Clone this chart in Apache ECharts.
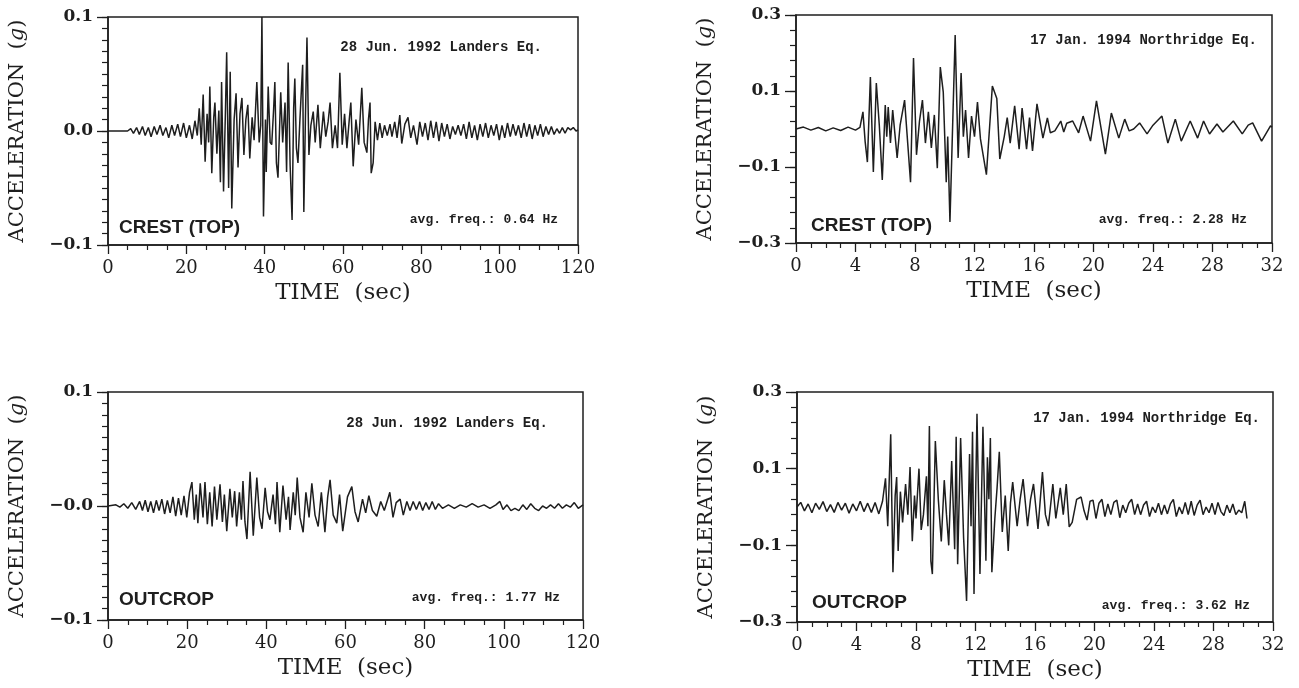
<!DOCTYPE html>
<html>
<head>
<meta charset="utf-8">
<title>Acceleration records</title>
<script src="https://cdn.jsdelivr.net/npm/echarts@6/dist/echarts.min.js"></script>
<style>
  html, body { margin: 0; padding: 0; background: #fff; }
  #chart { width: 1299px; height: 688px; }
</style>
</head>
<body>
<div id="chart"></div>
<script>
// [time (sec), acceleration (g)]
var landersCrest = [
  [0,0],[5,0],[5.8,0.002],[6.5,-0.002],[7.3,0.003],[8,-0.003],[8.8,0.004],[9.5,-0.004],[10.3,0.003],[11,-0.005],
  [11.8,0.004],[12.5,-0.003],[13.3,0.005],[14,-0.004],[14.8,0.003],[15.5,-0.006],[16.3,0.005],[17,-0.004],[17.8,0.006],
  [18.5,-0.005],[19.3,0.007],[20,-0.006],[20.8,0.005],[21.5,-0.007],[22.2,0.009],[22.8,-0.004],[23.3,0.02],[23.8,-0.012],
  [24.3,0.032],[24.8,-0.027],[25.3,0.015],[25.7,-0.01],[26,0.039],[26.5,-0.037],[27,0.012],[27.3,0.025],[27.8,-0.02],
  [28.3,0.018],[28.7,-0.045],[29,0.043],[29.5,-0.053],[30,0.02],[30.3,0.069],[30.8,-0.05],[31.2,0.052],[31.6,-0.068],
  [32.2,0.01],[32.7,0.033],[33.2,-0.032],[33.7,0.015],[34.2,0.029],[34.7,-0.021],[35.2,0.01],[35.7,0.023],[36.2,-0.024],
  [36.8,0.012],[37.3,-0.008],[38,0.043],[38.6,-0.01],[39,0.005],[39.3,0.1],[39.7,-0.075],[40.2,0.01],[40.4,-0.036],
  [40.9,0.039],[41.4,-0.01],[41.8,-0.012],[42.3,0.02],[42.6,0.043],[43,-0.028],[43.4,-0.041],[44.1,0.034],[44.6,-0.01],
  [45.2,0.025],[45.6,-0.036],[46,0.06],[46.5,-0.03],[47,-0.078],[47.4,0.02],[47.7,0.046],[48.1,-0.015],[48.5,-0.028],
  [49,0.01],[49.7,0.058],[50,-0.071],[50.4,0.01],[50.8,0.082],[51.3,-0.021],[51.8,0.005],[52.4,0.017],[52.9,-0.01],
  [53.6,0.023],[54.2,-0.015],[55,0.017],[55.6,-0.005],[56.2,0.008],[56.7,0.025],[57.3,-0.015],[58,0.005],[58.6,-0.015],
  [59.2,0.051],[59.8,-0.012],[60.4,0.015],[61,-0.015],[61.6,0.01],[62,0.025],[62.6,-0.031],[63.3,0.01],[64,-0.012],
  [64.8,0.038],[65.4,-0.01],[66.1,-0.019],[66.5,0.01],[66.9,0.025],[67.2,-0.037],[67.7,-0.028],[68.2,0.008],[68.8,-0.008],
  [69.4,0.007],[70,-0.006],[70.6,0.005],[71.3,-0.004],[72,0.006],[72.5,-0.005],[73.2,0.008],[73.8,-0.006],[74.5,0.014],
  [75,-0.011],[75.8,0.006],[76.6,0.012],[77.3,-0.006],[78,0.005],[78.9,-0.012],[79.6,0.008],[80.3,-0.005],[81,0.007],
  [81.7,-0.008],[82.4,0.009],[83.1,-0.006],[83.8,0.008],[84.5,-0.009],[85.2,0.007],[85.9,-0.005],[86.6,0.006],[87.3,-0.007],
  [88,0.004],[88.7,-0.003],[89.4,0.005],[90.1,-0.004],[90.8,0.006],[91.5,-0.007],[92.2,0.008],[92.9,-0.006],[93.6,0.005],
  [94.3,-0.008],[95,0.006],[95.7,-0.005],[96.4,0.007],[97.1,-0.006],[97.8,0.005],[98.5,-0.004],[99.2,0.006],[99.9,-0.008],
  [100.6,0.005],[101.3,-0.006],[102,0.007],[102.7,-0.005],[103.4,0.006],[104.1,-0.004],[104.8,0.005],[105.5,-0.006],
  [106.2,0.007],[106.9,-0.005],[107.6,0.006],[108.3,-0.007],[109,0.005],[109.7,-0.004],[110.4,0.006],[111.1,-0.005],
  [111.8,0.004],[112.5,-0.003],[113.2,0.004],[113.9,-0.003],[114.6,0.002],[115.3,-0.002],[116,0.003],[116.7,-0.002],
  [117.4,0.003],[118.1,0.001],[118.8,0.003],[119.5,0],[120,0.001]
];
var northCrest = [
  [0,0],[0.5,0.005],[1,-0.003],[1.5,0.004],[2,-0.005],[2.5,0.003],[3,-0.004],[3.5,0.005],[4,-0.003],[4.3,0.004],
  [4.5,0.045],[4.65,-0.034],[4.8,-0.087],[5,0.137],[5.2,-0.113],[5.4,0.121],[5.6,0.01],[5.8,-0.134],[6,0.063],[6.1,-0.02],
  [6.2,0.058],[6.35,-0.037],[6.5,0.05],[6.8,-0.076],[7,0.01],[7.3,0.076],[7.7,-0.14],[7.9,0.187],[8.1,-0.068],[8.3,0.02],
  [8.5,0.076],[8.7,-0.037],[8.9,0.045],[9.1,-0.05],[9.3,0.037],[9.5,-0.103],[9.7,0.163],[9.9,0.097],[10.1,-0.14],
  [10.2,-0.02],[10.35,-0.245],[10.7,0.247],[10.9,-0.076],[11.1,0.147],[11.25,-0.02],[11.4,0.05],[11.6,-0.076],[11.8,0.034],
  [12,-0.02],[12.2,0.071],[12.4,-0.026],[12.8,-0.12],[13.2,0.113],[13.5,0.08],[13.7,-0.079],[14,-0.02],[14.2,0.03],
  [14.4,-0.037],[14.7,0.061],[15,-0.053],[15.2,0.055],[15.5,-0.053],[15.7,0.03],[15.9,-0.058],[16.2,0.066],[16.6,-0.024],
  [16.9,0.029],[17.1,-0.01],[17.4,-0.005],[17.8,0.021],[18,-0.008],[18.2,0.015],[18.6,0.021],[19,-0.01],[19.3,0.034],
  [19.8,-0.032],[20.2,0.074],[20.8,-0.066],[21.2,0.042],[21.7,-0.024],[22.1,0.026],[22.4,-0.005],[22.7,0],[23.1,0.016],
  [23.6,-0.013],[24,0.01],[24.6,0.034],[25,-0.037],[25.5,0.026],[25.9,-0.032],[26.5,0.021],[27,-0.024],[27.4,0.021],
  [27.8,-0.013],[28.3,0.013],[28.7,-0.008],[29.4,0.021],[30,-0.013],[30.4,0.01],[30.7,0.016],[31.3,-0.032],[31.9,0.008],
  [32,0.005]
];
var landersOutcrop = [
  [0,0],[2,0.001],[3,-0.001],[4,0.002],[5,-0.002],[6,0.003],[7,-0.003],[8,0.004],[8.7,-0.004],[9.4,0.005],[10.1,-0.005],
  [10.8,0.004],[11.5,-0.006],[12.2,0.005],[12.9,-0.004],[13.6,0.006],[14.3,-0.007],[15,0.005],[15.7,-0.006],[16.4,0.008],
  [17.1,-0.009],[17.8,0.007],[18.5,-0.008],[19.2,0.009],[19.9,-0.01],[20.6,0.012],[21.2,0.021],[21.8,-0.012],[22.3,0.01],
  [22.7,-0.015],[23.3,0.02],[24,-0.01],[24.5,0.021],[25.1,-0.016],[25.7,0.012],[26.3,-0.018],[26.9,0.017],[27.5,-0.012],
  [28.3,0.019],[28.9,-0.014],[29.4,0.01],[30,-0.022],[30.8,0.015],[31.4,-0.01],[32,0.013],[32.5,-0.018],[33.2,0.012],
  [33.7,-0.012],[34.1,0.022],[34.6,-0.014],[35.1,-0.029],[35.9,0.03],[36.7,-0.026],[37.6,0.025],[38.3,-0.01],[38.9,-0.02],
  [39.7,0.016],[40.3,-0.005],[40.9,-0.012],[41.7,0.01],[42.3,-0.016],[42.7,0.021],[43.4,-0.023],[44.2,0.018],[45,-0.012],
  [45.6,0.008],[46,-0.021],[46.8,0.012],[47.3,-0.008],[47.8,0.025],[48.5,-0.01],[49.3,-0.023],[50,0.012],[50.8,-0.01],
  [51.5,0.02],[52.3,-0.008],[53.1,-0.018],[53.9,0.012],[54.8,-0.023],[55.5,0.008],[56.1,0.023],[56.9,-0.008],[57.8,-0.015],
  [58.5,0.01],[59.3,-0.022],[60.5,0.008],[61.6,0.017],[62.4,-0.005],[63.2,-0.014],[64.3,0.006],[65.1,-0.006],[65.9,0.009],
  [66.8,-0.004],[67.9,-0.009],[68.9,0.004],[69.8,-0.004],[70.6,0.005],[71.2,0.012],[72,-0.01],[72.8,0.003],[73.8,0.006],
  [74.6,-0.008],[75.5,0.004],[76.3,-0.004],[77.1,0.004],[77.9,-0.003],[78.7,0.004],[79.5,-0.004],[80.3,0.003],[81.1,-0.003],
  [81.9,0.004],[82.7,-0.003],[83.5,0.002],[84.5,-0.002],[86,0.001],[87.5,-0.002],[89,0.001],[90.5,-0.001],[92,0.002],
  [93.5,-0.001],[95,0.001],[96.5,-0.002],[98,0.001],[99,0.004],[99.8,-0.003],[100.8,0.001],[101.8,-0.004],[102.8,-0.002],
  [103.8,-0.004],[104.8,0.001],[105.8,-0.003],[106.8,0.002],[107.8,-0.002],[108.8,-0.004],[109.8,0],[110.8,-0.002],
  [111.8,0.001],[112.8,-0.002],[113.8,0.002],[114.8,-0.002],[115.8,0.001],[116.8,-0.001],[117.8,0.003],[118.8,-0.002],
  [120,0.001]
];
var northOutcrop = [
  [0,0],[0.25,0.012],[0.5,-0.01],[0.75,0.008],[1,-0.015],[1.25,0.01],[1.5,-0.006],[1.75,0.014],[2,-0.012],[2.25,0.006],
  [2.5,-0.014],[2.75,0.012],[3,-0.008],[3.25,0.01],[3.5,-0.016],[3.75,0.008],[4,-0.01],[4.25,0.015],[4.5,-0.012],
  [4.75,0.01],[5,-0.014],[5.25,0.012],[5.5,-0.018],[5.75,0.015],[5.95,0.075],[6.1,-0.05],[6.3,0.19],[6.45,-0.17],
  [6.6,0.03],[6.7,0.078],[6.8,-0.115],[6.95,0.04],[7.1,-0.04],[7.3,0.06],[7.45,-0.02],[7.6,0.104],[7.75,-0.089],[7.9,0.03],
  [8,-0.03],[8.2,0.1],[8.35,-0.06],[8.5,-0.02],[8.7,0.08],[8.8,-0.05],[8.9,0.211],[9,-0.141],[9.1,-0.175],[9.3,0.172],
  [9.5,0.02],[9.7,-0.09],[9.9,0.07],[10.05,-0.02],[10.2,-0.1],[10.4,0.12],[10.6,-0.11],[10.7,0.183],[10.8,-0.149],
  [11,0.18],[11.2,-0.08],[11.4,-0.245],[11.6,0.138],[11.7,-0.05],[11.8,0.196],[11.9,-0.227],[12.1,0.243],[12.3,-0.175],
  [12.5,0.209],[12.7,-0.14],[12.8,0.13],[12.9,0.02],[13,0.18],[13.1,-0.17],[13.3,-0.03],[13.45,0.05],[13.6,0.144],
  [13.8,-0.065],[14,0.03],[14.2,-0.115],[14.35,0.01],[14.5,0.065],[14.8,-0.05],[15,0.02],[15.2,0.073],[15.5,-0.05],
  [15.7,0.02],[15.9,0.06],[16.2,-0.057],[16.5,0.091],[16.7,-0.02],[16.9,-0.05],[17.2,0.06],[17.4,-0.03],[17.7,0.05],
  [17.9,-0.02],[18.1,0.06],[18.3,-0.052],[18.5,-0.04],[18.8,0.02],[19.1,0.026],[19.3,-0.01],[19.5,-0.034],[19.7,0.015],
  [19.9,0.018],[20.1,-0.03],[20.3,0.01],[20.5,0.02],[20.7,-0.025],[20.9,0.008],[21.1,-0.02],[21.3,0.012],[21.5,0.018],
  [21.7,-0.028],[21.9,0.005],[22.1,-0.015],[22.3,0.01],[22.5,0.02],[22.7,-0.02],[22.9,0.008],[23.1,-0.02],[23.3,0.005],
  [23.5,0.015],[23.7,-0.025],[23.9,0],[24.1,-0.015],[24.3,0.01],[24.5,-0.02],[24.7,0.005],[24.9,-0.018],[25.1,0.008],
  [25.3,0.02],[25.5,-0.025],[25.7,0],[25.9,-0.018],[26.1,0.012],[26.3,-0.02],[26.5,0.015],[26.7,-0.022],[26.9,0.005],
  [27.1,0.018],[27.3,-0.02],[27.5,0],[27.7,-0.015],[27.9,0.01],[28.1,-0.02],[28.3,0.012],[28.5,-0.012],[28.7,-0.022],
  [28.9,0.005],[29.1,-0.015],[29.3,0.008],[29.5,-0.02],[29.7,-0.008],[29.9,-0.015],[30.1,0.015],[30.25,-0.03]
];

// tick labels
var landersYTicks = [-0.1, 0, 0.1];
var landersCrestYLabels = ['\u22120.1', '0.0', '0.1'];
var landersOutcropYLabels = ['\u22120.1', '\u22120.0', '0.1'];
var northYTicks = [-0.3, -0.1, 0.1, 0.3];
var northYLabels = ['\u22120.3', '\u22120.1', '0.1', '0.3'];

// panel texts
var eventNames = ['28 Jun. 1992 Landers Eq.', '17 Jan. 1994 Northridge Eq.', '28 Jun. 1992 Landers Eq.', '17 Jan. 1994 Northridge Eq.'];
var freqTexts = ['avg. freq.: 0.64 Hz', 'avg. freq.: 2.28 Hz', 'avg. freq.: 1.77 Hz', 'avg. freq.: 3.62 Hz'];
var siteNames = ['CREST (TOP)', 'CREST (TOP)', 'OUTCROP', 'OUTCROP'];

var chart = echarts.init(document.getElementById('chart'));
var ink = '#1e1e1e';

var panels = [
  { left: 108, top: 17, width: 470, height: 228, xMax: 120, xStep: 20, yMin: -0.1, yMax: 0.1, minor: 0.01,
    yTicks: landersYTicks, yLabels: landersCrestYLabels, data: landersCrest,
    ev: [542, 47], fr: [558, 220], site: [119, 228] },
  { left: 796, top: 15, width: 476, height: 228, xMax: 32, xStep: 4, yMin: -0.3, yMax: 0.3, minor: 0.04,
    yTicks: northYTicks, yLabels: northYLabels, data: northCrest,
    ev: [1257, 40], fr: [1247, 220], site: [811, 226] },
  { left: 108, top: 392, width: 475, height: 228, xMax: 120, xStep: 20, yMin: -0.1, yMax: 0.1, minor: 0.01,
    yTicks: landersYTicks, yLabels: landersOutcropYLabels, data: landersOutcrop,
    ev: [548, 423], fr: [560, 598], site: [119, 600] },
  { left: 797, top: 392, width: 476, height: 230, xMax: 32, xStep: 4, yMin: -0.3, yMax: 0.3, minor: 0.04,
    yTicks: northYTicks, yLabels: northYLabels, data: northOutcrop,
    ev: [1260, 418], fr: [1250, 606], site: [812, 603] }
];

function minorValues(min, max, step) {
  var out = [];
  var n = Math.round((max - min) / step);
  for (var i = 0; i <= n; i++) out.push(+(min + i * step).toFixed(4));
  return out;
}

var grids = [], xAxes = [], yAxes = [], series = [], graphics = [];

panels.forEach(function (p, i) {
  grids.push({
    left: p.left, top: p.top, width: p.width, height: p.height,
    show: true, borderColor: ink, borderWidth: 1.5, backgroundColor: 'transparent'
  });
  xAxes.push({
    gridIndex: i, type: 'value', min: 0, max: p.xMax, interval: p.xStep,
    name: 'TIME  (sec)', nameLocation: 'middle', nameGap: 37,
    nameTextStyle: { fontFamily: 'DejaVu Serif', fontSize: 23, color: ink },
    axisLine: { show: true, onZero: false, lineStyle: { color: ink, width: 1.5 } },
    axisTick: { show: true, length: 9, lineStyle: { color: ink, width: 1.3 } },
    minorTick: { show: true, splitNumber: 4, length: 5, lineStyle: { color: ink, width: 1.2 } },
    axisLabel: { margin: 14, fontFamily: 'DejaVu Serif', fontSize: 18, color: ink },
    splitLine: { show: false }
  });
  yAxes.push({
    gridIndex: i, type: 'value', min: p.yMin, max: p.yMax, position: 'left',
    name: 'ACCELERATION  ({g|g})', nameLocation: 'middle', nameGap: 80,
    nameTextStyle: {
      fontFamily: 'DejaVu Serif', fontSize: 21, color: ink,
      rich: { g: { fontFamily: 'DejaVu Serif', fontSize: 21, fontStyle: 'italic', color: ink } }
    },
    axisLine: { show: true, onZero: false, lineStyle: { color: ink, width: 1.5 } },
    axisTick: { show: true, customValues: p.yTicks, length: 11, lineStyle: { color: ink, width: 1.3 } },
    axisLabel: {
      customValues: p.yTicks, margin: 15, fontFamily: 'DejaVu Serif', fontWeight: 'bold',
      fontSize: 17, color: ink,
      formatter: function (v) {
        for (var k = 0; k < p.yTicks.length; k++) {
          if (Math.abs(p.yTicks[k] - v) < 1e-6) return p.yLabels[k];
        }
        return '';
      }
    },
    splitLine: { show: false }
  });
  yAxes.push({
    gridIndex: i, type: 'value', min: p.yMin, max: p.yMax, position: 'left', offset: 0,
    axisLine: { show: false },
    axisTick: { show: true, customValues: minorValues(p.yMin, p.yMax, p.minor), length: 6, lineStyle: { color: ink, width: 1.2 } },
    axisLabel: { show: false },
    splitLine: { show: false }
  });
  series.push({
    type: 'line', xAxisIndex: i, yAxisIndex: 2 * i, data: p.data,
    showSymbol: false, symbol: 'none', silent: true, animation: false,
    lineStyle: { color: ink, width: 1.5 }
  });
  graphics.push({
    type: 'text', x: p.ev[0], y: p.ev[1],
    style: { text: eventNames[i], align: 'right', verticalAlign: 'middle',
      font: 'bold 14px "Liberation Mono"', fill: ink }
  });
  graphics.push({
    type: 'text', x: p.fr[0], y: p.fr[1],
    style: { text: freqTexts[i], align: 'right', verticalAlign: 'middle',
      font: 'bold 13px "Liberation Mono"', fill: ink }
  });
  graphics.push({
    type: 'text', x: p.site[0], y: p.site[1],
    style: { text: siteNames[i], align: 'left', verticalAlign: 'middle',
      font: 'bold 19px "Liberation Sans"', fill: ink }
  });
});

chart.setOption({
  backgroundColor: '#fff',
  animation: false,
  grid: grids,
  xAxis: xAxes,
  yAxis: yAxes,
  series: series,
  graphic: graphics
});
</script>
</body>
</html>
